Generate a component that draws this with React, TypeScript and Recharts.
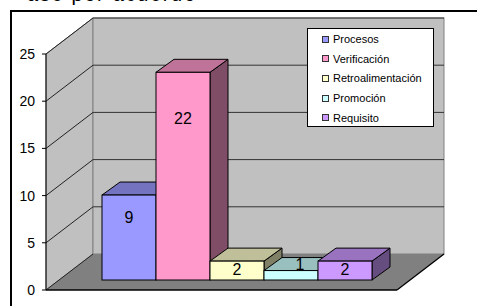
import React from 'react';
import { BarChart, Bar, XAxis, YAxis, ReferenceArea } from 'recharts';

const categories = ['Procesos', 'Verificación', 'Retroalimentación', 'Promoción', 'Requisito'];
const values = [9, 22, 2, 1, 2];
const colors = ['#9999FF', '#FF99CC', '#FFFFCC', '#CCFFFF', '#CC99FF'];
const yTicks = [0, 5, 10, 15, 20, 25];

const data = [
  categories.reduce((row: any, c, i) => {
    row[c] = values[i];
    return row;
  }, { name: '' } as any),
];

const FONT = 'Arial, "Liberation Sans", sans-serif';
const DX = 47;
const DY = 36;
const OX = 15;
const OY = -10;
const BDX = 18;
const BDY = 13;

function shade(hex: string, k: number) {
  const n = parseInt(hex.slice(1), 16);
  const r = Math.round(((n >> 16) & 255) * k);
  const g = Math.round(((n >> 8) & 255) * k);
  const b = Math.round((n & 255) * k);
  return `rgb(${r},${g},${b})`;
}

const Walls = (props: any) => {
  const { x, y, width, height } = props;
  const bottom = y + height;
  const right = x + width;
  const lines = yTicks.filter((t) => t > 0).map((t) => bottom - (height * t) / 25);
  return (
    <g>
      <polygon
        points={`${x},${y} ${x + DX},${y - DY} ${x + DX},${bottom - DY} ${x},${bottom}`}
        fill="#C0C0C0"
        stroke="#808080"
        strokeWidth={1}
      />
      <rect x={x + DX} y={y - DY} width={width} height={height} fill="#C0C0C0" stroke="#808080" strokeWidth={1} />
      <polygon
        points={`${x},${bottom} ${x + DX},${bottom - DY} ${right + DX},${bottom - DY} ${right},${bottom}`}
        fill="#808080"
      />
      {lines.map((ly, i) => (
        <g key={i}>
          <line x1={x} y1={ly} x2={x + DX} y2={ly - DY} stroke="#222" strokeWidth={1} />
          <line x1={x + DX} y1={ly - DY} x2={right + DX} y2={ly - DY} stroke="#333" strokeWidth={1} />
        </g>
      ))}
      <line x1={x} y1={bottom} x2={x + DX} y2={bottom - DY} stroke="#222" strokeWidth={1} />
      <line x1={x} y1={bottom} x2={right} y2={bottom} stroke="#000" strokeWidth={1.3} />
      <line x1={right} y1={bottom} x2={right + DX} y2={bottom - DY} stroke="#000" strokeWidth={1.3} />
    </g>
  );
};

const Box3D = (props: any) => {
  const { x, y, width, height, fill, value } = props;
  const fx = x + OX;
  const fy = y + OY;
  const w = width;
  const h = height;
  const top = `${fx},${fy} ${fx + BDX},${fy - BDY} ${fx + w + BDX},${fy - BDY} ${fx + w},${fy}`;
  const side = `${fx + w},${fy} ${fx + w + BDX},${fy - BDY} ${fx + w + BDX},${fy + h - BDY} ${fx + w},${fy + h}`;
  let lx = fx + w / 2;
  let ly = fy + 0.2 * h + 5;
  if (h < 15) {
    lx = fx + w / 2 + BDX / 2;
    ly = fy - BDY / 2;
  }
  return (
    <g>
      <polygon points={side} fill={shade(fill, 0.5)} stroke="#000" strokeWidth={1} strokeLinejoin="round" />
      <polygon points={top} fill={shade(fill, 0.75)} stroke="#000" strokeWidth={1} strokeLinejoin="round" />
      <rect x={fx} y={fy} width={w} height={h} fill={fill} stroke="#000" strokeWidth={1} />
      <text
        x={lx}
        y={ly}
        textAnchor="middle"
        dominantBaseline="central"
        fontSize={16}
        fontFamily={FONT}
        fill="#000"
      >
        {value}
      </text>
    </g>
  );
};

export default function App() {
  return (
    <div
      style={{
        position: 'fixed',
        left: 0,
        top: 0,
        width: 477,
        height: 306,
        overflow: 'hidden',
        background: '#fff',
      }}
    >
      <svg width={477} height={20} style={{ position: 'absolute', left: 0, top: 0 }}>
        <text x={27} y={1} fontSize={20} fontFamily={FONT} fill="#000" textLength={168} lengthAdjust="spacing">
          ase por acuerdo
        </text>
      </svg>
      <div
        style={{
          position: 'absolute',
          left: 10,
          top: 10,
          width: 500,
          height: 320,
          borderLeft: '2px solid #000',
          borderTop: '2px solid #000',
        }}
      />
      <div style={{ position: 'absolute', left: 0, top: 0 }}>
        <BarChart
          width={477}
          height={306}
          data={data}
          margin={{ top: 54, right: 80, bottom: 16, left: 0 }}
          barGap={0}
          barSize={54}
        >
          <ReferenceArea y1={0} y2={25} shape={<Walls />} ifOverflow="visible" />
          <XAxis dataKey="name" hide />
          <YAxis
            width={46}
            domain={[0, 25]}
            ticks={yTicks}
            interval={0}
            tickSize={4}
            tickMargin={7}
            axisLine={{ stroke: '#000', strokeWidth: 1 }}
            tickLine={{ stroke: '#000' }}
            tick={{ fill: '#000', fontSize: 14, fontFamily: FONT }}
          />
          {categories.map((c, i) => (
            <Bar key={c} dataKey={c} name={c} fill={colors[i]} shape={<Box3D />} isAnimationActive={false} />
          ))}
        </BarChart>
      </div>
      <div
        style={{
          position: 'absolute',
          left: 307,
          top: 28,
          width: 125,
          height: 97,
          background: '#fff',
          border: '1px solid #000',
          fontFamily: FONT,
          fontSize: 11,
        }}
      >
        {categories.map((c, i) => (
          <div
            key={c}
            style={{ position: 'absolute', left: 14, top: 3 + i * 19.7, height: 14, display: 'flex', alignItems: 'center', whiteSpace: 'nowrap' }}
          >
            <span
              style={{
                display: 'inline-block',
                width: 5,
                height: 5,
                background: colors[i],
                border: '1px solid #333',
                marginRight: 4,
              }}
            />
            <span style={{ color: '#000' }}>{c}</span>
          </div>
        ))}
      </div>
    </div>
  );
}
